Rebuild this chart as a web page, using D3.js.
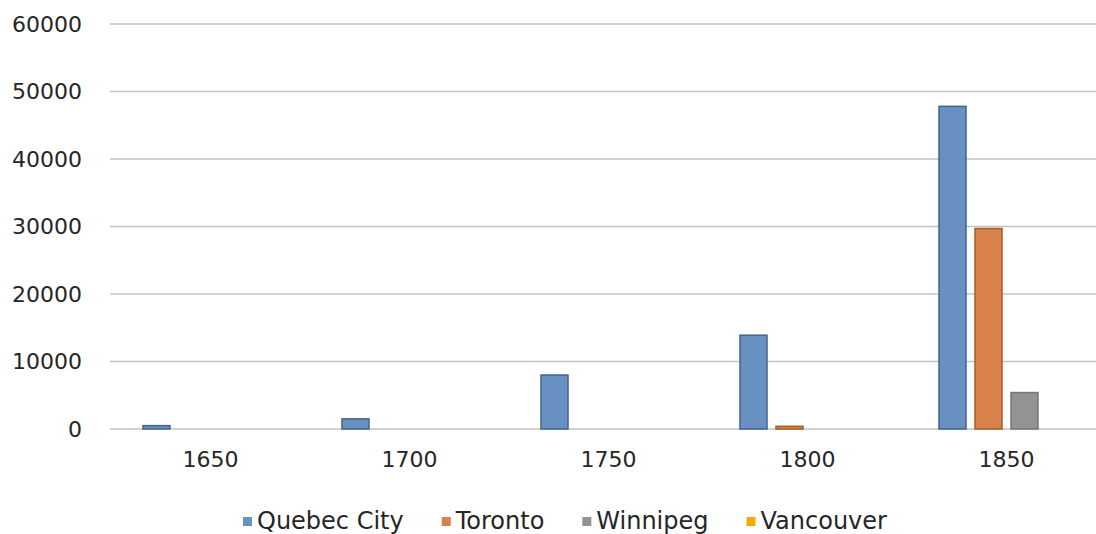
<!DOCTYPE html>
<html>
<head>
<meta charset="utf-8">
<script src="https://cdn.jsdelivr.net/npm/d3@7"></script>
<style>
  body { margin: 0; background: #fff; }
  svg text { font-family: "DejaVu Sans", sans-serif; fill: #262626; }
</style>
</head>
<body>
<div id="graph"></div>
<script>
// chart data
const years = ["1650", "1700", "1750", "1800", "1850"];
const cities = ["Quebec City", "Toronto", "Winnipeg", "Vancouver"];
const quebecCity = [500, 1500, 8000, 13900, 47800];
const toronto = [0, 0, 0, 400, 29700];
const winnipeg = [0, 0, 0, 0, 5400];
const vancouver = [0, 0, 0, 0, 0];
const yTicks = [0, 10000, 20000, 30000, 40000, 50000, 60000];

const series = [quebecCity, toronto, winnipeg, vancouver];
const fills = ["#6890c1", "#d8814b", "#939393", "#f4aa00"];
const strokes = ["#41648f", "#a85d22", "#777777", "#c88a00"];

const width = 1096, height = 534;

const svg = d3.select("#graph").append("svg")
  .attr("width", width)
  .attr("height", height);

// scales
const x0 = d3.scaleBand().domain(years).range([111, 1106]).padding(0);
const x1 = d3.scaleBand().domain(cities)
  .range([27.5, 171.5])
  .paddingInner(0.25)
  .paddingOuter(0.125);
const y = d3.scaleLinear().domain([0, 60000]).range([429, 24]);

// gridlines
svg.append("g")
  .selectAll("line")
  .data(yTicks)
  .join("line")
  .attr("x1", 110)
  .attr("x2", width)
  .attr("y1", d => y(d))
  .attr("y2", d => y(d))
  .attr("stroke", "#c3c3c3")
  .attr("stroke-width", 1.5);

// y axis labels
const yAxis = svg.append("g")
  .attr("transform", "translate(82,0)")
  .call(d3.axisLeft(y).tickValues(yTicks).tickFormat(d3.format("d")).tickSize(0).tickPadding(0));
yAxis.select(".domain").remove();
yAxis.selectAll("text")
  .style("font-family", "DejaVu Sans, sans-serif")
  .style("font-size", "22px")
  .attr("fill", "#262626");

// x axis labels
const xAxis = svg.append("g")
  .attr("transform", "translate(0,451)")
  .call(d3.axisBottom(x0).tickSize(0).tickPadding(0));
xAxis.select(".domain").remove();
xAxis.selectAll("text")
  .style("font-family", "DejaVu Sans, sans-serif")
  .style("font-size", "22px")
  .attr("fill", "#262626");

// bars
const groups = svg.append("g")
  .selectAll("g")
  .data(years)
  .join("g")
  .attr("transform", d => `translate(${x0(d)},0)`);

groups.selectAll("rect")
  .data((d, i) => cities.map((c, j) => ({ city: c, j: j, value: series[j][i] })))
  .join("rect")
  .filter(d => d.value > 0)
  .attr("x", d => x1(d.city))
  .attr("y", d => y(d.value))
  .attr("width", x1.bandwidth())
  .attr("height", d => y(0) - y(d.value))
  .attr("fill", d => fills[d.j])
  .attr("stroke", d => strokes[d.j])
  .attr("stroke-width", 1.5);

// legend
const legend = svg.append("g").attr("transform", "translate(0,521)");
let lx = 243;
cities.forEach((c, j) => {
  const item = legend.append("g").attr("transform", `translate(${lx},0)`);
  item.append("rect")
    .attr("x", 0).attr("y", -4)
    .attr("width", 9).attr("height", 9)
    .attr("fill", fills[j]);
  const t = item.append("text")
    .attr("x", 14)
    .attr("dy", "0.35em")
    .style("font-size", "24px")
    .text(c);
  lx += 14 + t.node().getComputedTextLength() + 38;
});
</script>
</body>
</html>
